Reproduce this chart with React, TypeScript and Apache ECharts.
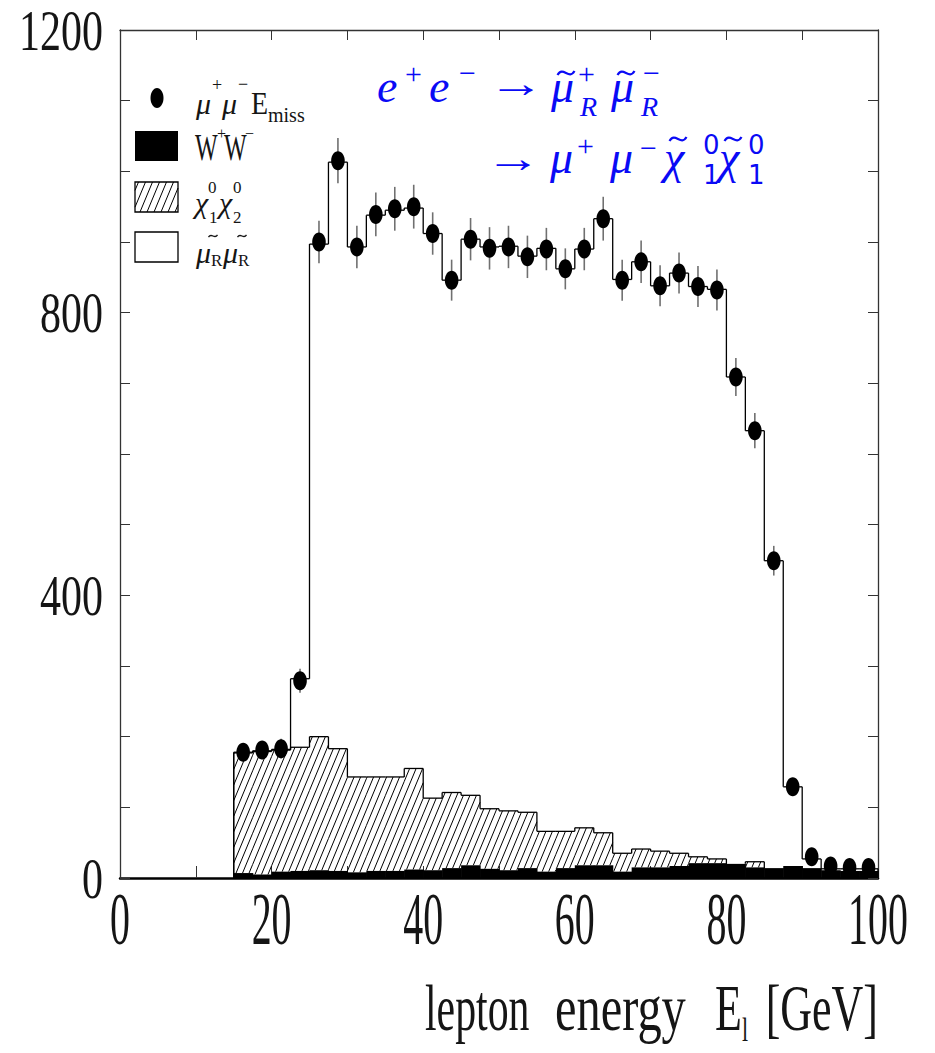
import React, { useEffect, useRef } from "react";
import * as echarts from "echarts";

// ---- data ----
const binCenters = [16.25, 18.75, 21.25, 23.75, 26.25, 28.75, 31.25, 33.75, 36.25, 38.75, 41.25, 43.75, 46.25, 48.75, 51.25, 53.75, 56.25, 58.75, 61.25, 63.75, 66.25, 68.75, 71.25, 73.75, 76.25, 78.75, 81.25, 83.75, 86.25, 88.75, 91.25, 93.75, 96.25, 98.75];
const binWidth = 2.5;
const dataCounts = [178, 181, 183, 279, 900, 1015, 893, 939, 947, 950, 912, 846, 904, 891, 893, 879, 890, 862, 890, 933, 846, 872, 838, 856, 837, 832, 709, 633, 449, 129, 30, 17, 15, 15];
const dataErrors = [13, 13, 14, 17, 30, 32, 30, 31, 31, 31, 30, 29, 30, 30, 30, 30, 30, 29, 30, 31, 29, 30, 29, 29, 29, 29, 27, 25, 21, 11, 5, 4, 4, 4];
const mcTotal = [178, 180, 182, 282, 897, 1013, 893, 938, 945, 948, 912, 846, 904, 893, 894, 880, 891, 862, 890, 933, 847, 872, 838, 856, 837, 833, 709, 633, 449, 129, 27, 13, 13, 13];
const chiStackTop = [177, 179, 181, 185, 200, 183, 143, 143, 143, 155, 113, 121, 117, 98, 95, 93, 66, 66, 71, 64, 35, 41, 38, 35, 30, 27, 20, 23, 14, 17, 14, 11, 10, 10];
const wwCounts = [7, 5, 9, 10, 11, 10, 8, 10, 10, 12, 11, 14, 18, 13, 11, 14, 9, 14, 18, 18, 9, 15, 15, 17, 21, 21, 20, 15, 14, 17, 14, 11, 10, 10];
const xTickLabels = [0, 20, 40, 60, 80, 100];
const yTickLabels = [0, 400, 800, 1200];

const SERIF = "Liberation Serif";
const SANS = "DejaVu Sans";
const BLUE = "#0a0af5";
const INK = "#151515";

function hatch(x0: number, x1: number, yt: number, yb: number, yRef: number, sp: number, m: number, lw: number, z?: number) {
  const out: any[] = [];
  const cStart = Math.floor((x0 - (yRef - yt) / m) / sp) * sp;
  for (let c = cStart; c <= x1; c += sp) {
    const yA = yRef - (x0 - c) * m;
    const yB = yRef - (x1 - c) * m;
    const top = Math.max(yt, yB);
    const bot = Math.min(yb, yA);
    if (bot - top > 0.3) {
      const el: any = {
        type: "line",
        shape: { x1: c + (yRef - bot) / m, y1: bot, x2: c + (yRef - top) / m, y2: top },
        style: { stroke: "#000", lineWidth: lw },
      };
      if (z !== undefined) el.z = z;
      out.push(el);
    }
  }
  return out;
}

function txt(text: string, x: number, y: number, size: number, o: any = {}) {
  return {
    type: "text",
    x,
    y,
    scaleX: o.sx ?? 1,
    scaleY: o.sy ?? 1,
    silent: true,
    z: 100,
    style: {
      text,
      fill: o.color ?? INK,
      fontSize: size,
      fontFamily: o.family ?? SERIF,
      fontStyle: o.italic ? "italic" : "normal",
      align: o.align ?? "left",
      verticalAlign: "middle",
    },
  };
}

function tilde(cx: number, cy: number, w: number, color: string, lw: number) {
  return {
    type: "bezierCurve",
    silent: true,
    z: 100,
    shape: {
      x1: cx - w / 2,
      y1: cy + w * 0.12,
      cpx1: cx - w / 6,
      cpy1: cy - w * 0.45,
      cpx2: cx + w / 6,
      cpy2: cy + w * 0.45,
      x2: cx + w / 2,
      y2: cy - w * 0.12,
    },
    style: { stroke: color, lineWidth: lw },
  };
}

function renderHist(params: any, api: any) {
  const i = params.dataIndex;
  const lo = api.value(0);
  const hi = api.value(1);
  const p0 = api.coord([lo, 0]);
  const p1 = api.coord([hi, 0]);
  const x0 = p0[0];
  const x1 = p1[0];
  const yb = p0[1];
  const yW = api.coord([lo, wwCounts[i]])[1];
  const yC = api.coord([lo, chiStackTop[i]])[1];
  const yT = api.coord([lo, mcTotal[i]])[1];
  const yPT = api.coord([lo, i > 0 ? mcTotal[i - 1] : 0])[1];
  const yPC = api.coord([lo, i > 0 ? chiStackTop[i - 1] : 0])[1];
  const ls = { stroke: "#000", lineWidth: 1.3 };
  const children: any[] = [];
  if (yW - yC > 0.8) {
    children.push(...hatch(x0, x1, yC, yW, yb, 6.5, 2.4, 1));
  }
  children.push({ type: "rect", shape: { x: x0, y: yW, width: x1 - x0 + 0.6, height: yb - yW }, style: { fill: "#000" } });
  if (chiStackTop[i] > wwCounts[i] || (i > 0 && chiStackTop[i - 1] > wwCounts[i - 1])) {
    children.push({ type: "line", shape: { x1: x0, y1: yPC, x2: x0, y2: yC }, style: ls });
  }
  if (chiStackTop[i] > wwCounts[i]) {
    children.push({ type: "line", shape: { x1: x0, y1: yC, x2: x1, y2: yC }, style: ls });
  }
  children.push({ type: "line", shape: { x1: x0, y1: yPT, x2: x0, y2: yT }, style: ls });
  children.push({ type: "line", shape: { x1: x0, y1: yT, x2: x1, y2: yT }, style: ls });
  if (i === binCenters.length - 1) {
    children.push({ type: "line", shape: { x1: x1, y1: yT, x2: x1, y2: yb }, style: ls });
  }
  return { type: "group", children };
}

function renderPoints(params: any, api: any) {
  const x = api.value(0);
  const y = api.value(1);
  const e = api.value(2);
  const c = api.coord([x, y]);
  const t = api.coord([x, y + e]);
  const b = api.coord([x, Math.max(0, y - e)]);
  return {
    type: "group",
    children: [
      { type: "line", shape: { x1: c[0], y1: t[1], x2: c[0], y2: b[1] }, style: { stroke: "#707070", lineWidth: 1.6 } },
      { type: "ellipse", shape: { cx: c[0], cy: c[1], rx: 6.8, ry: 9.5 }, style: { fill: "#000" } },
    ],
  };
}

export default function App() {
  const ref = useRef<HTMLDivElement>(null);
  useEffect(() => {
    if (!ref.current) return;
    const chart = echarts.init(ref.current, null, { renderer: "svg" });
    const histData = binCenters.map((c) => [c - binWidth / 2, c + binWidth / 2]);
    const pointData = binCenters.map((c, i) => [c, dataCounts[i], dataErrors[i]]);
    const axisCommon = {
      type: "value",
      axisLabel: { show: false },
      splitLine: { show: false },
    };
    chart.setOption({
      animation: false,
      backgroundColor: "#fff",
      grid: { left: 120, top: 30, width: 758, height: 848, containLabel: false },
      xAxis: [
        {
          ...axisCommon,
          min: 0,
          max: 100,
          interval: 10,
          position: "bottom",
          axisLine: { show: true, onZero: false, lineStyle: { color: "#000", width: 2.5 } },
          axisTick: { show: true, inside: true, length: 12, lineStyle: { color: "#333", width: 1 } },
        },
        {
          ...axisCommon,
          min: 0,
          max: 100,
          interval: 10,
          position: "top",
          axisLine: { show: true, onZero: false, lineStyle: { color: "#333", width: 1.3 } },
          axisTick: { show: true, inside: true, length: 10, lineStyle: { color: "#333", width: 1 } },
        },
      ],
      yAxis: [
        {
          ...axisCommon,
          min: 0,
          max: 1200,
          interval: 100,
          position: "left",
          axisLine: { show: true, onZero: false, lineStyle: { color: "#333", width: 1.3 } },
          axisTick: { show: true, inside: true, length: 10, lineStyle: { color: "#333", width: 1 } },
        },
        {
          ...axisCommon,
          min: 0,
          max: 1200,
          interval: 100,
          position: "right",
          axisLine: { show: true, onZero: false, lineStyle: { color: "#333", width: 1.3 } },
          axisTick: { show: true, inside: true, length: 10, lineStyle: { color: "#333", width: 1 } },
        },
      ],
      series: [
        {
          type: "custom",
          name: "histograms",
          renderItem: renderHist,
          data: histData,
          encode: { x: [0, 1] },
          clip: false,
          z: 2,
        },
        {
          type: "custom",
          name: "data",
          renderItem: renderPoints,
          data: pointData,
          encode: { x: 0, y: 1 },
          clip: false,
          z: 5,
        },
      ],
    });

    const g: any[] = [];
    // tick labels via axis scales
    for (const v of yTickLabels) {
      const py = chart.convertToPixel({ yAxisIndex: 0 }, v) as number;
      g.push(txt(String(v), 103, py + 1, 42, { align: "right", sy: 1.35 }));
    }
    for (const v of xTickLabels) {
      const px = chart.convertToPixel({ xAxisIndex: 0 }, v) as number;
      g.push(txt(String(v), px, 919, 42, { align: "center", sx: 0.95, sy: 1.75 }));
    }
    // axis title
    g.push(txt("lepton", 425, 1008, 44, { sx: 0.95, sy: 1.5 }));
    g.push(txt("energy", 555, 1008, 44, { sx: 1.1, sy: 1.5 }));
    g.push(txt("E", 715, 1008, 44, { sy: 1.5 }));
    g.push(txt("l", 742, 1030, 22, { sy: 1.5 }));
    g.push(txt("[GeV]", 878, 1008, 44, { sy: 1.5, align: "right" }));

    // legend
    g.push({ type: "ellipse", shape: { cx: 157, cy: 98, rx: 6.5, ry: 10 }, style: { fill: "#000" }, z: 100 });
    g.push(txt("μ", 196, 103, 30, { italic: true }));
    g.push(txt("+", 212, 85, 18));
    g.push(txt("μ", 222, 103, 30, { italic: true }));
    g.push(txt("−", 238, 84, 18));
    g.push(txt("E", 251, 104, 28, { sy: 1.1 }));
    g.push(txt("miss", 268, 115, 20));

    g.push({ type: "rect", shape: { x: 135, y: 131, width: 43, height: 30 }, style: { fill: "#000" }, z: 100 });
    g.push(txt("W", 195, 147, 30, { sx: 0.8, sy: 1.25 }));
    g.push(txt("+", 217, 133, 16));
    g.push(txt("W", 224, 147, 30, { sx: 0.8, sy: 1.25 }));
    g.push(txt("−", 245, 133, 16));

    g.push({ type: "rect", shape: { x: 135, y: 182, width: 43, height: 30 }, style: { fill: "#fff", stroke: "#000", lineWidth: 1.3 }, z: 100 });
    g.push(...hatch(135, 178, 182, 212, 212, 7, 2.4, 1, 101));
    g.push(txt("χ", 195, 202, 30, { italic: true }));
    g.push(txt("0", 208, 187, 17));
    g.push(txt("1", 209, 217, 17));
    g.push(txt("χ", 219, 202, 30, { italic: true }));
    g.push(txt("0", 233, 187, 17));
    g.push(txt("2", 233, 217, 17));

    g.push({ type: "rect", shape: { x: 135, y: 232, width: 43, height: 30 }, style: { fill: "#fff", stroke: "#000", lineWidth: 1.3 }, z: 100 });
    g.push(txt("μ", 196, 252, 30, { italic: true }));
    g.push(tilde(213, 236, 9, INK, 1.3));
    g.push(txt("R", 211, 260, 17));
    g.push(txt("μ", 223, 252, 30, { italic: true }));
    g.push(tilde(242, 236, 9, INK, 1.3));
    g.push(txt("R", 238, 260, 17));

    // blue annotation line 1
    const b = { color: BLUE };
    const bi = { color: BLUE, italic: true };
    const arrow = { color: BLUE, sx: 1.4 };
    g.push(txt("e", 377, 86, 46, bi));
    g.push(txt("+", 405, 73, 30, b));
    g.push(txt("e", 429, 86, 46, bi));
    g.push(txt("−", 459, 72, 30, b));
    g.push(txt("→", 488, 84, 40, arrow));
    g.push(txt("μ", 551, 86, 46, bi));
    g.push(tilde(566, 73, 17, BLUE, 2.2));
    g.push(txt("+", 578, 73, 30, b));
    g.push(txt("R", 580, 106, 28, bi));
    g.push(txt("μ", 611, 86, 46, bi));
    g.push(tilde(626, 73, 17, BLUE, 2.2));
    g.push(txt("−", 643, 72, 30, b));
    g.push(txt("R", 641, 106, 28, bi));
    // line 2
    g.push(txt("→", 485, 159, 40, arrow));
    g.push(txt("μ", 550, 157, 46, bi));
    g.push(txt("+", 577, 145, 30, b));
    g.push(txt("μ", 610, 157, 46, bi));
    g.push(txt("−", 640, 147, 30, b));
    g.push(txt("χ", 664, 157, 46, bi));
    g.push(tilde(678, 139, 17, BLUE, 2.2));
    g.push(txt("0", 703, 145, 26, { ...b, family: SANS }));
    g.push(txt("1", 703, 175, 26, { ...b, family: SANS }));
    g.push(txt("χ", 719, 157, 46, bi));
    g.push(tilde(733, 139, 17, BLUE, 2.2));
    g.push(txt("0", 748, 145, 26, { ...b, family: SANS }));
    g.push(txt("1", 748, 175, 26, { ...b, family: SANS }));

    chart.setOption({ graphic: g });
    return () => chart.dispose();
  }, []);
  return <div ref={ref} style={{ position: "absolute", left: 0, top: 0, width: 935, height: 1053 }} />;
}
